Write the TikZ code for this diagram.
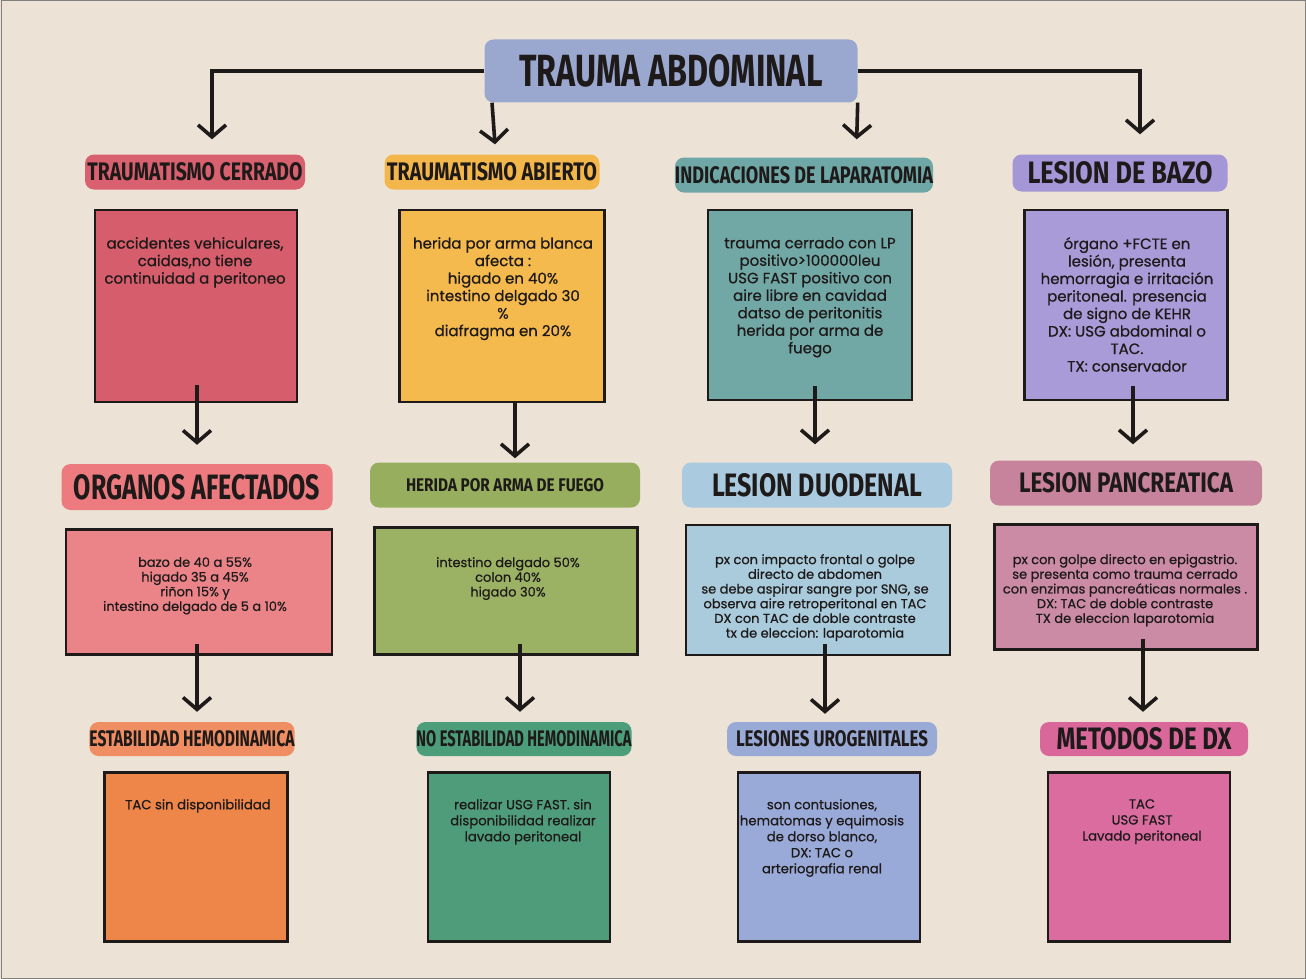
\documentclass[tikz,border=0pt]{standalone}
\usepackage{fontspec}
\setmainfont{Poppins}[FakeBold=0.7]
\newfontfamily\hfont{Fira Sans}
\usetikzlibrary{arrows.meta, calc}

\definecolor{bgc}{HTML}{ECE3D6}
\definecolor{inkc}{HTML}{1E1A1A}
\definecolor{titlec}{HTML}{9AA8D0}
\definecolor{redh}{HTML}{D9606E}
\definecolor{redb}{HTML}{D65D6B}
\definecolor{yelh}{HTML}{F3B64B}
\definecolor{yelb}{HTML}{F5BA4E}
\definecolor{tealh}{HTML}{6FA7A7}
\definecolor{tealb}{HTML}{71A8A6}
\definecolor{purh}{HTML}{A596D8}
\definecolor{purb}{HTML}{A99AD8}
\definecolor{salh}{HTML}{EC7A7E}
\definecolor{salb}{HTML}{EB8489}
\definecolor{oliveh}{HTML}{97AE5E}
\definecolor{oliveb}{HTML}{9BB264}
\definecolor{skyh}{HTML}{A9CADF}
\definecolor{skyb}{HTML}{A9CBDC}
\definecolor{mauveh}{HTML}{C7829C}
\definecolor{mauveb}{HTML}{CC8BA5}
\definecolor{orah}{HTML}{EF8E62}
\definecolor{orab}{HTML}{EE8549}
\definecolor{greenh}{HTML}{4C9D7A}
\definecolor{greenb}{HTML}{4E9C7A}
\definecolor{periwh}{HTML}{9AAAD6}
\definecolor{periwb}{HTML}{9AAAD8}
\definecolor{pinkh}{HTML}{D9679A}
\definecolor{pinkb}{HTML}{DB6CA0}

\newcommand\hd[3]{\resizebox{#1pt}{#2pt}{\hfont\bfseries #3}}

\tikzset{
  pill/.style = {rounded corners = 9pt, inner sep = 0pt, align = center, text = inkc},
  card/.style = {draw = inkc, line width = 2.6pt},
  arr/.style = {draw = inkc, line width = 3.6pt,
    -{Straight Barb[length = 12pt, width = 28pt, line width = 3.6pt]}},
  txta/.style = {font = \fontsize{15}{17.5}\selectfont, align = center, anchor = north, inner sep = 0pt, text = inkc},
  txtb/.style = {font = \fontsize{13}{14.7}\selectfont, align = center, anchor = north, inner sep = 0pt, text = inkc},
  txtc/.style = {font = \fontsize{13.2}{16}\selectfont, align = center, anchor = north, inner sep = 0pt, text = inkc}
}

\begin{document}
\begin{tikzpicture}[x = 1pt, y = -1pt]
\fill [bgc] (0, 0) rectangle (1306, 979);
\useasboundingbox (0, 0) rectangle (1306, 979);
\draw [gray, line width = 1pt] (1, 1) rectangle (1305, 978);

\node [pill, fill = titlec, minimum width = 373pt, minimum height = 63pt] (title) at (671, 71) {\hd{303}{32}{TRAUMA ABDOMINAL}};

% first row
\node [pill, fill = redh, minimum width = 220pt, minimum height = 35pt] (h1) at (195, 172) {\hd{215}{18}{TRAUMATISMO CERRADO}};
\node [pill, fill = yelh, minimum width = 215pt, minimum height = 35pt] (h2) at (492, 172) {\hd{210}{18}{TRAUMATISMO ABIERTO}};
\node [pill, fill = tealh, minimum width = 215pt, minimum height = 35pt] (h3) at (804, 175) {\hd{258}{17}{INDICACIONES DE LAPARATOMIA}};
\node [pill, fill = purh, minimum width = 215pt, minimum height = 37pt] (h4) at (1120, 173) {\hd{185}{22}{LESION DE BAZO}};

\node [card, fill = redb, minimum width = 202pt, minimum height = 192pt] (c1) at (196, 306) {};
\node [card, fill = yelb, minimum width = 205pt, minimum height = 192pt] (c2) at (502, 306) {};
\node [card, fill = tealb, minimum width = 204pt, minimum height = 190pt] (c3) at (810, 305) {};
\node [card, fill = purb, minimum width = 203pt, minimum height = 190pt] (c4) at (1126, 305) {};

\node [txta] (t1) at (195, 237) {accidentes vehiculares,\\caidas,no tiene\\continuidad a peritoneo};
\node [txta] (t2) at (503, 237) {herida por arma blanca\\afecta :\\higado en 40\%\\intestino delgado 30\\\%\\diafragma en 20\%};
\node [txta] (t3) at (810, 237) {trauma cerrado con LP\\positivo>100000leu\\USG FAST positivo con\\aire libre en cavidad\\datso de peritonitis\\herida por arma de\\fuego};
\node [txta] (t4) at (1127, 237) {órgano +FCTE en\\lesión, presenta\\hemorragia e irritación\\peritoneal. presencia\\de signo de KEHR\\DX: USG abdominal o\\TAC.\\TX: conservador};

% second row
\node [pill, fill = salh, minimum width = 271pt, minimum height = 46pt] (h5) at (197, 487) {\hd{246}{25}{ORGANOS AFECTADOS}};
\node [pill, fill = oliveh, minimum width = 270pt, minimum height = 45pt] (h6) at (505, 485) {\hd{198}{13}{HERIDA POR ARMA DE FUEGO}};
\node [pill, fill = skyh, minimum width = 270pt, minimum height = 45pt] (h7) at (817, 485) {\hd{210}{23}{LESION DUODENAL}};
\node [pill, fill = mauveh, minimum width = 272pt, minimum height = 45pt] (h8) at (1126, 483) {\hd{214}{20}{LESION PANCREATICA}};

\node [card, fill = salb, minimum width = 266pt, minimum height = 125pt] (c5) at (199, 592) {};
\node [card, fill = oliveb, minimum width = 263pt, minimum height = 127pt] (c6) at (506, 591) {};
\node [card, fill = skyb, minimum width = 264pt, minimum height = 130pt] (c7) at (818, 590) {};
\node [card, fill = mauveb, minimum width = 263pt, minimum height = 125pt] (c8) at (1126, 587) {};

\node [txtb] (t5) at (195, 557) {bazo de 40 a 55\%\\higado 35 a 45\%\\riñon 15\% y\\intestino delgado de 5 a 10\%};
\node [txtb] (t6) at (508, 557) {intestino delgado 50\%\\colon 40\%\\higado 30\%};
\node [txtb] (t7) at (815, 554) {px con impacto frontal o golpe\\directo de abdomen\\se debe aspirar sangre por SNG, se\\observa aire retroperitonal en TAC\\DX con TAC de doble contraste\\tx de eleccion: laparotomia};
\node [txtb] (t8) at (1125, 554) {px con golpe directo en epigastrio.\\se presenta como trauma cerrado\\con enzimas pancreáticas normales .\\DX: TAC de doble contraste\\TX de eleccion laparotomia};

% third row
\node [pill, fill = orah, minimum width = 195pt, minimum height = 34pt] (h9) at (192, 739) {\hd{205}{16}{ESTABILIDAD HEMODINAMICA}};
\node [pill, fill = greenh, minimum width = 208pt, minimum height = 34pt] (h10) at (524, 739) {\hd{215}{16}{NO ESTABILIDAD HEMODINAMICA}};
\node [pill, fill = periwh, minimum width = 210pt, minimum height = 34pt] (h11) at (832, 739) {\hd{192}{16}{LESIONES UROGENITALES}};
\node [pill, fill = pinkh, minimum width = 208pt, minimum height = 34pt] (h12) at (1144, 739) {\hd{175}{22}{METODOS DE DX}};

\node [card, fill = orab, minimum width = 183pt, minimum height = 169pt] (c9) at (196, 857) {};
\node [card, fill = greenb, minimum width = 182pt, minimum height = 169pt] (c10) at (519, 857) {};
\node [card, fill = periwb, minimum width = 182pt, minimum height = 169pt] (c11) at (829, 857) {};
\node [card, fill = pinkb, minimum width = 182pt, minimum height = 169pt] (c12) at (1139, 857) {};

\node [txtc] (t9) at (198, 799) {TAC sin disponibilidad};
\node [txtc] (t10) at (523, 799) {realizar USG FAST. sin\\disponibilidad realizar\\lavado peritoneal};
\node [txtc] (t11) at (822, 799) {son contusiones,\\hematomas y equimosis\\de dorso blanco,\\DX: TAC o\\arteriografia renal};
\node [txtc] (t12) at (1142, 799) {TAC\\USG FAST\\Lavado peritoneal};

% arrows from the title
\path [arr] (title.west) -| ($(h1.north) + (17, -15)$);
\path [arr] (title.south west -| h2.north) -- ($(h2.north) + (3, -10)$);
\path [arr] (title.east) -| ($(h4.north) + (20, -20)$);
\path [arr] (title.south east) -- ($(title.south east |- h3.north) + (-1, -18)$);

% arrows between the rows
\path [arr] ($(c1.south) + (1, -18)$) -- ($(h5.north) + (0, -19)$);
\path [arr] ($(c2.south) + (13, -2)$) -- ($(h6.north) + (10, -4)$);
\path [arr] ($(c3.south) + (5, -15)$) -- ($(h7.north) + (-2, -18)$);
\path [arr] ($(c4.south) + (7, -15)$) -- ($(h8.north) + (7, -16)$);

\path [arr] ($(c5.south) + (-2, -12)$) -- ($(h9.north) + (5, -10)$);
\path [arr] ($(c6.south) + (14, -12)$) -- ($(h10.north) + (-4, -10)$);
\path [arr] ($(c7.south) + (7, -12)$) -- ($(h11.north) + (-7, -8)$);
\path [arr] ($(c8.south) + (17, -12)$) -- ($(h12.north) + (-1, -10)$);
\end{tikzpicture}
\end{document}
